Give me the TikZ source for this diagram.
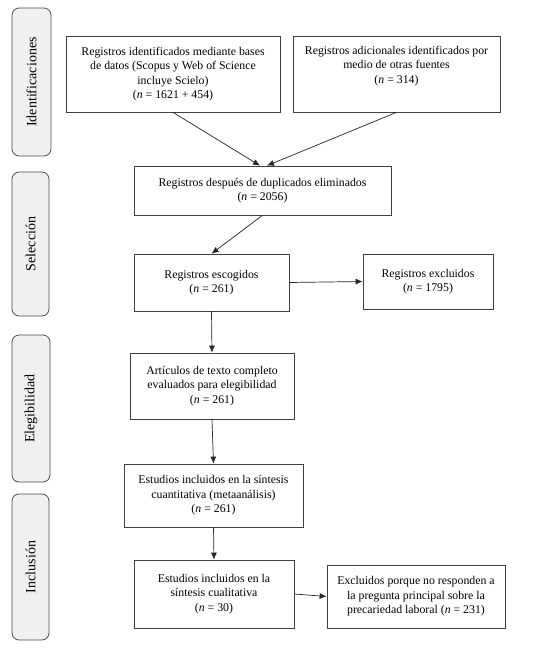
\documentclass[tikz,border=0pt]{standalone}
\usepackage{fontspec}
\setmainfont{Liberation Serif}
\usetikzlibrary{arrows.meta,calc}
\begin{document}
\begin{tikzpicture}[x=1pt,y=-1pt,
  box/.style={draw=black!75,line width=0.7pt,align=center,inner sep=0pt,
    font=\fontsize{11.8}{14.5}\selectfont},
  side/.style={draw=black!70,line width=0.8pt,fill=black!6,rounded corners=7pt,
    inner sep=0pt},
  sidelabel/.style={rotate=90,font=\fontsize{14}{16}\selectfont,inner sep=0pt},
  arr/.style={draw=black!85,line width=0.7pt,-{Latex[length=7pt,width=6pt]}}]
\useasboundingbox[fill=white] (0,0) rectangle (559,648);
% side boxes
\node[side,minimum width=39pt,minimum height=148pt] (s1) at (31.5,82) {};
\node[sidelabel] (l1) at (s1.center) {Identificaciones};
\node[side,minimum width=37pt,minimum height=144pt] (s2) at (30.5,244) {};
\node[sidelabel] (l2) at (s2.center) {Selección};
\node[side,minimum width=38pt,minimum height=147pt] (s3) at (31,408.5) {};
\node[sidelabel] (l3) at (s3.center) {Elegibilidad};
\node[side,minimum width=37pt,minimum height=146pt] (s4) at (30.5,567) {};
\node[sidelabel] (l4) at (s4.center) {Inclusión};
% boxes
\node[box,minimum width=214pt,minimum height=76pt] (b1) at (173,74)
  {Registros identificados mediante bases\\de datos (Scopus y Web of Science\\incluye Scielo)\\(\textit{n} = 1621 + 454)};
\node[box,minimum width=207pt,minimum height=76pt] (b2) at (396.5,74)
  {Registros adicionales identificados por\\medio de otras fuentes\\(\textit{n} = 314)\\\strut};
\node[box,minimum width=257pt,minimum height=49pt] (b3) at (262.5,190.5)
  {Registros después de duplicados eliminados\\(\textit{n} = 2056)};
\node[box,minimum width=155pt,minimum height=57pt] (b4) at (211.5,282.5)
  {Registros escogidos\\(\textit{n} = 261)};
\node[box,minimum width=130pt,minimum height=55pt] (b5) at (428,281.5)
  {Registros excluidos\\(\textit{n} = 1795)};
\node[box,minimum width=164pt,minimum height=66pt] (b6) at (212,386)
  {Artículos de texto completo\\evaluados para elegibilidad\\(\textit{n} = 261)};
\node[box,minimum width=179pt,minimum height=63pt] (b7) at (213.5,495.5)
  {Estudios incluidos en la síntesis\\cuantitativa (metaanálisis)\\(\textit{n} = 261)};
\node[box,minimum width=160pt,minimum height=68pt] (b8) at (214,594)
  {Estudios incluidos en la\\síntesis cualitativa\\(\textit{n} = 30)};
\node[box,minimum width=178pt,minimum height=63pt] (b9) at (416,596.5)
  {Excluidos porque no responden a\\la pregunta principal sobre la\\precariedad laboral (\textit{n} = 231)};
% arrows
\draw[arr] (b1.south) -- ($(b3.north)+(-2.5,0)$);
\draw[arr] (b2.south) -- ($(b3.north)+(4.5,0)$);
\draw[arr] (b3.south) -- (b4.north);
\draw[arr] (b4.east) -- (b5.west);
\draw[arr] (b4.south) -- (b6.north);
\draw[arr] (b6.south) -- (b7.north);
\draw[arr] (b7.south) -- (b8.north);
\draw[arr] (b8.east) -- (b9.west);
\end{tikzpicture}
\end{document}
